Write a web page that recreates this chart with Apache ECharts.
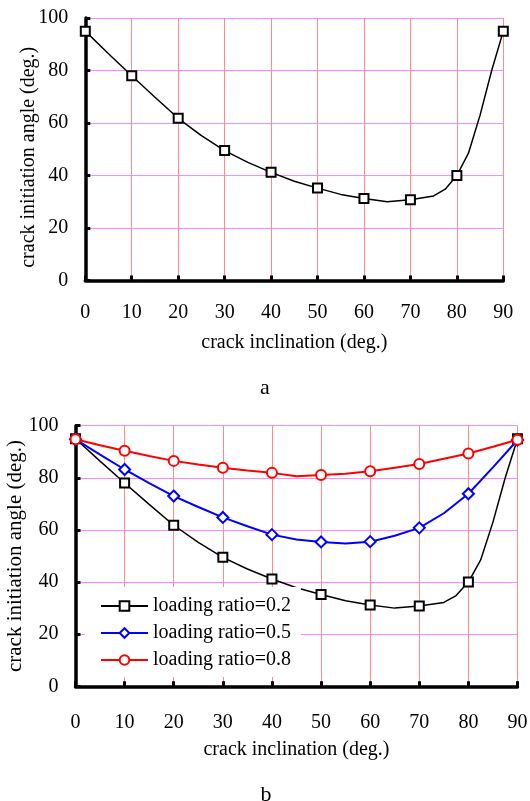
<!DOCTYPE html>
<html>
<head>
<meta charset="utf-8">
<script src="https://cdn.jsdelivr.net/npm/echarts@6/dist/echarts.min.js"></script>
<style>
html,body{margin:0;padding:0;background:#fff;}
#chart{width:530px;height:801px;}
</style>
</head>
<body>
<div id="chart"></div>
<script>
// ---- data ----
const xTicks = [0, 10, 20, 30, 40, 50, 60, 70, 80, 90];
const yTicks = [0, 20, 40, 60, 80, 100];

// loading ratio = 0.2 (also panel a)
const x02 = [0, 5, 10, 15, 20, 25, 30, 35, 40, 45, 50, 55, 60, 65, 70, 75, 77.5, 80, 82.5, 85, 87.5, 90];
const y02 = [95, 86.4, 78, 69.8, 61.8, 55.2, 49.5, 45, 41.2, 37.8, 35.2, 32.8, 31.2, 30, 30.8, 32.2, 34.8, 40, 48.5, 63, 80, 95];

// loading ratio = 0.5
const x05 = [0, 5, 10, 15, 20, 25, 30, 35, 40, 45, 50, 55, 60, 65, 70, 75, 80, 85, 90];
const y05 = [94.8, 88.9, 83.2, 78, 73, 68.8, 64.8, 61.4, 58.2, 56.3, 55.4, 54.8, 55.5, 57.8, 60.8, 66.4, 73.9, 84, 94.5];

// loading ratio = 0.8
const x08 = [0, 5, 10, 15, 20, 25, 30, 35, 40, 45, 50, 55, 60, 65, 70, 75, 80, 85, 90];
const y08 = [94.8, 92.5, 90.4, 88.4, 86.5, 85.1, 83.9, 82.8, 81.9, 80.6, 81.1, 81.6, 82.5, 83.9, 85.3, 87.3, 89.3, 91.9, 94.6];

const names = ['loading ratio=0.2', 'loading ratio=0.5', 'loading ratio=0.8'];
const panelLabels = ['a', 'b'];
const xName = 'crack inclination (deg.)';
const yName = 'crack initiation angle (deg.)';

// ---- build ----
const FONT = 'Liberation Serif';
function pts(xs, ys) {
  return xs.map((x, i) => {
    const d = { value: [x, ys[i]] };
    if (xTicks.indexOf(x) < 0) d.symbol = 'none';
    return d;
  });
}
function xAxis(gi, gap, margin) {
  return {
    type: 'value', gridIndex: gi, min: xTicks[0], max: xTicks[xTicks.length - 1], interval: 10,
    name: xName, nameLocation: 'middle', nameGap: gap, nameMoveOverlap: false,
    nameTextStyle: { fontFamily: FONT, fontSize: 20, color: '#000' },
    axisLine: { show: true, lineStyle: { color: '#000', width: 3.5 } },
    axisTick: { show: true, inside: true, length: 5, lineStyle: { color: '#000', width: 3 } },
    axisLabel: { fontFamily: FONT, fontSize: 20, color: '#000', margin: margin },
    splitLine: { show: true, lineStyle: { color: '#ff8a8a', width: 1 } }
  };
}
function yAxis(gi, gap, fs, pad) {
  return {
    type: 'value', gridIndex: gi, min: yTicks[0], max: yTicks[yTicks.length - 1], interval: 20,
    name: yName, nameLocation: 'middle', nameGap: gap, nameMoveOverlap: false,
    nameTextStyle: { fontFamily: FONT, fontSize: fs, color: '#000', padding: pad },
    axisLine: { show: true, lineStyle: { color: '#000', width: 3.5 } },
    axisTick: { show: true, inside: true, length: 5, lineStyle: { color: '#000', width: 3 } },
    axisLabel: { fontFamily: FONT, fontSize: 20, color: '#000', margin: 17 },
    splitLine: { show: true, lineStyle: { color: '#ff88ff', width: 1 } }
  };
}
function lineSeries(name, xi, color, symbol, size, xs, ys, lw) {
  return {
    name: name, type: 'line', xAxisIndex: xi, yAxisIndex: xi,
    data: pts(xs, ys), symbol: symbol, symbolSize: size, showAllSymbol: true,
    lineStyle: { color: color, width: lw },
    itemStyle: { color: '#fff', borderColor: color, borderWidth: 2 },
    emphasis: { disabled: true }, animation: false, clip: false
  };
}

const option = {
  animation: false,
  backgroundColor: '#fff',
  grid: [
    { left: 85.3, right: 26.7, top: 18, height: 262.5, containLabel: false, outerBoundsMode: 'none' },
    { left: 75.5, right: 12.5, top: 425.7, height: 260.6, containLabel: false, outerBoundsMode: 'none' }
  ],
  xAxis: [xAxis(0, 52, 22), xAxis(1, 53, 26)],
  yAxis: [yAxis(0, 47, 20, [0, 16, 0, 0]), yAxis(1, 50, 21, 0)],
  legend: {
    data: names, orient: 'vertical', left: 85, top: 587,
    padding: [9, 10, 7, 15], backgroundColor: '#fff',
    itemWidth: 47, itemHeight: 12, itemGap: 7,
    textStyle: { fontFamily: FONT, fontSize: 20, lineHeight: 20, color: '#000' },
    selectedMode: false
  },
  series: [
    lineSeries('panel a', 0, '#000', 'rect', 9, x02, y02, 1.5),
    lineSeries(names[0], 1, '#000', 'rect', 9, x02, y02, 1.5),
    lineSeries(names[1], 1, '#0000ff', 'diamond', 11, x05, y05, 2),
    lineSeries(names[2], 1, '#ff0000', 'circle', 10, x08, y08, 2)
  ],
  graphic: [
    { type: 'text', x: 265, y: 388, style: { text: panelLabels[0], fontFamily: FONT, fontSize: 22, fill: '#000', textAlign: 'center', textVerticalAlign: 'middle' } },
    { type: 'text', x: 266, y: 795, style: { text: panelLabels[1], fontFamily: FONT, fontSize: 22, fill: '#000', textAlign: 'center', textVerticalAlign: 'middle' } }
  ]
};
const chart = echarts.init(document.getElementById('chart'), null, { renderer: 'canvas' });
chart.setOption(option);
</script>
</body>
</html>
